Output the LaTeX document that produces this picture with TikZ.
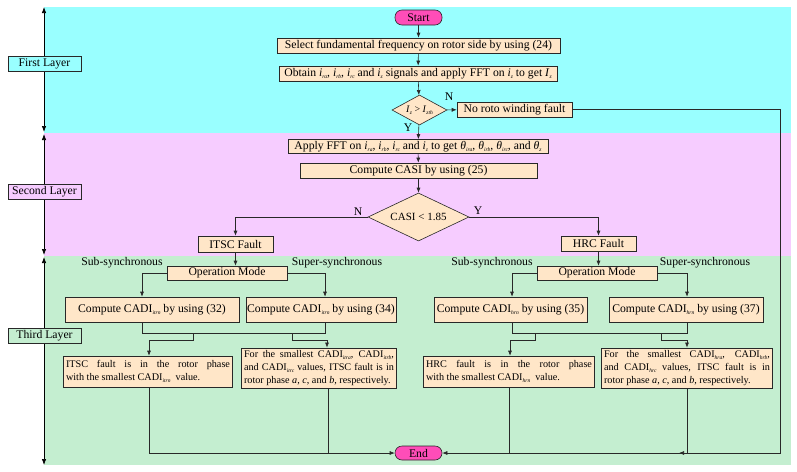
\documentclass[tikz,border=0pt]{standalone}
\usepackage{fontspec}
\setmainfont{Liberation Serif}
\usetikzlibrary{shapes.geometric,arrows.meta}
\definecolor{cyanbg}{RGB}{153,255,255}
\definecolor{pinkbg}{RGB}{246,204,255}
\definecolor{greenbg}{RGB}{196,238,208}
\definecolor{boxfill}{RGB}{255,230,200}
\definecolor{termfill}{RGB}{255,77,184}
\definecolor{linec}{RGB}{40,40,40}
\newcommand\ssb[1]{\raisebox{-0.35ex}{\fontsize{5.5}{6}\selectfont\textit{#1}}}
\newcommand\vv[2]{\textit{#1}\ssb{#2}}
\begin{document}
\begin{tikzpicture}[x=1pt,y=-1pt,
  every node/.style={font=\fontsize{11.7}{13}\selectfont},
  box/.style={draw=linec, fill=boxfill, line width=0.6pt, inner sep=1pt, minimum height=15pt},
  tallbox/.style={box, minimum height=25pt},
  parbox/.style={box, align=justify, inner sep=2.5pt, font=\fontsize{10.2}{13}\selectfont},
  term/.style={draw=linec, fill=termfill, line width=0.6pt, rounded corners=7pt, inner sep=1pt, minimum height=15pt, minimum width=47pt},
  dec/.style={diamond, draw=linec, fill=boxfill, line width=0.6pt, inner sep=0pt},
  layerlbl/.style={draw=linec, line width=0.6pt, minimum width=73pt, minimum height=15pt, inner sep=1pt},
  conn/.style={draw=linec, line width=0.6pt},
  arr/.style={conn, -{Latex[length=5pt,width=4pt]}},
  dblarr/.style={draw=black, line width=0.7pt, {Latex[length=6pt,width=4.5pt]}-{Latex[length=6pt,width=4.5pt]}}
]
\useasboundingbox (0,0) rectangle (797,471);
% layer bands
\fill[cyanbg] (44,7) rectangle (791,133);
\fill[pinkbg] (44,133) rectangle (791,256);
\fill[greenbg] (44,256) rectangle (791,465);
% layer arrows
\coordinate (l1t) at (44,7); \coordinate (l1b) at (44,132);
\coordinate (l2t) at (44,134); \coordinate (l2b) at (44,255);
\coordinate (l3t) at (44,257); \coordinate (l3b) at (44,465);
\draw[dblarr] (l1t) -- (l1b);
\draw[dblarr] (l2t) -- (l2b);
\draw[dblarr] (l3t) -- (l3b);
\node[layerlbl, fill=cyanbg] (lay1) at (44.5,63.5) {First Layer};
\node[layerlbl, fill=pinkbg] (lay2) at (44.5,191.5) {Second Layer};
\node[layerlbl, fill=greenbg] (lay3) at (44.5,336) {Third Layer};

% main column
\node[term] (start) at (418.5,17.5) {Start};
\node[box, minimum width=283pt] (b1) at (418.5,45.5) {Select fundamental frequency on rotor side by using (24)};
\node[box, minimum width=278pt] (b2) at (418,73.5) {Obtain \vv{i}{ra}, \vv{i}{rb}, \vv{i}{rc} and \vv{i}{z}\ signals and apply FFT on \vv{i}{z} to get \vv{I}{z}};
\node[dec, minimum width=55pt, minimum height=30pt, shape aspect=1.85, font=\fontsize{10}{11}\selectfont] (d1) at (419.5,110) {\vv{I}{z} > \vv{I}{zth}};
\node[box, minimum width=115pt] (nf) at (514.5,109.5) {No roto winding fault};
\node[box, minimum width=260pt, minimum height=14pt] (fft) at (418,146.5) {Apply FFT on \vv{i}{ra}, \vv{i}{rb}, \vv{i}{rc} and \vv{i}{z} to get \vv{θ}{ira}, \vv{θ}{irb}, \vv{θ}{irc}, and \vv{θ}{z}};
\node[box, minimum width=237pt] (casi) at (418.5,170.5) {Compute CASI by using (25)};
\node[dec, minimum width=101pt, minimum height=48pt, shape aspect=2.1, font=\fontsize{11}{12}\selectfont] (d2) at (418.5,217) {CASI < 1.85};
\node[box, minimum width=75pt, minimum height=16pt] (itsc) at (235.5,244) {ITSC Fault};
\node[box, minimum width=75pt] (hrc) at (598.5,243.5) {HRC Fault};

% ITSC side
\node[box, minimum width=120pt, minimum height=14pt] (opl) at (227,273) {Operation Mode};
\node (subl) at (122,263) {Sub-synchronous};
\node (supl) at (337,263) {Super-synchronous};
\node[tallbox, minimum width=174pt] (c32) at (152,309.5) {Compute CADI\ssb{itrn} by using (32)};
\node[tallbox, minimum width=148pt] (c34) at (321,309.5) {Compute CADI\ssb{itrn} by using (34)};
\node[parbox, text width=164pt, minimum height=31pt] (bl1) at (148,371.5) {ITSC fault is in the rotor phase\linebreak with the smallest CADI\ssb{itrn}\ \ value.};
\node[parbox, text width=150pt, minimum height=39pt] (bl2) at (319,368) {For the smallest CADI\ssb{itra}, CADI\ssb{itrb},\linebreak and CADI\ssb{itrc} values, ITSC fault is in\linebreak rotor phase \textit{a}, \textit{c}, and \textit{b}, respectively.};

% HRC side
\node[box, minimum width=120pt, minimum height=14pt] (opr) at (597,273) {Operation Mode};
\node (subr) at (492,263) {Sub-synchronous};
\node (supr) at (705,263) {Super-synchronous};
\node[tallbox, minimum width=153pt] (c35) at (510.5,309.5) {Compute CADI\ssb{hrn} by using (35)};
\node[tallbox, minimum width=154pt] (c37) at (686,309.5) {Compute CADI\ssb{hrn} by using (37)};
\node[parbox, text width=166pt, minimum height=31pt] (bl3) at (509,371.5) {HRC fault is in the rotor phase\linebreak with the smallest CADI\ssb{hrn}\ \ value.};
\node[parbox, text width=166pt, minimum height=39pt] (bl4) at (687,368) {For the smallest CADI\ssb{hra}, CADI\ssb{hrb},\linebreak and CADI\ssb{hrc} values, ITSC fault is in\linebreak rotor phase \textit{a}, \textit{c}, and \textit{b}, respectively.};

\node[term, minimum height=14pt] (end) at (418.5,453) {End};

% labels
\node (n1) at (449,97) {N};
\node (y1) at (408,128) {Y};
\node (n2) at (358,212) {N};
\node (y2) at (478,211) {Y};

% connectors main
\draw[arr] (start) -- (b1);
\draw[arr] (b1) -- (b2);
\draw[arr] (b2) -- (d1);
\draw[arr] (d1) -- (nf);
\draw[arr] (d1) -- (fft);
\draw[arr] (fft) -- (casi);
\draw[arr] (casi) -- (d2);
\draw[arr] (d2.west) -| (itsc.north);
\draw[arr] (d2.east) -| (hrc.north);
\draw[arr] (itsc.south) -- (itsc.south |- opl.north);
\draw[arr] (hrc.south) -- (hrc.south |- opr.north);
\draw[arr] (opl.west) -| ([xshift=-10pt]c32.north);
\draw[arr] (opl.east) -| ([xshift=4pt]c34.north);
\draw[arr] (opr.west) -| ([xshift=1.5pt]c35.north);
\draw[arr] (opr.east) -| ([xshift=1pt]c37.north);

% merges ITSC
\coordinate (ja) at (193,333); \coordinate (jb) at (292,333);
\draw[conn] ([xshift=-10pt]c32.south) -- ++(0,11) -| ([xshift=4pt]c34.south);
\draw[arr] (ja) -- ++(0,7) -| ([xshift=1pt]bl1.north);
\draw[arr] (jb) -- ++(0,7) -| ([xshift=8pt]bl2.north);
% merges HRC
\coordinate (jc) at (535,333); \coordinate (jd) at (661,333);
\draw[conn] ([xshift=1.5pt]c35.south) -- ++(0,11) -| ([xshift=1pt]c37.south);
\draw[arr] (jc) -- ++(0,7) -| ([xshift=1pt]bl3.north);
\draw[arr] (jd) -- ++(0,7) -| (bl4.north);

% to End
\draw[arr] ([xshift=1pt]bl1.south) |- (end.west);
\draw[conn] ([xshift=9pt]bl2.south) -- ([xshift=9pt]bl2.south |- end.west);
\draw[conn] (bl3.south) -- (bl3.south |- end.east);
\draw[arr] (bl4.south) |- (end.east);
\coordinate (nfc) at (780,109.5);
\coordinate (nfd) at (780,453);
\coordinate (nfe) at (679,453);
\draw[arr] (nf.east) -- (nfc) -- (nfd) -- (nfe);
\end{tikzpicture}
\end{document}
